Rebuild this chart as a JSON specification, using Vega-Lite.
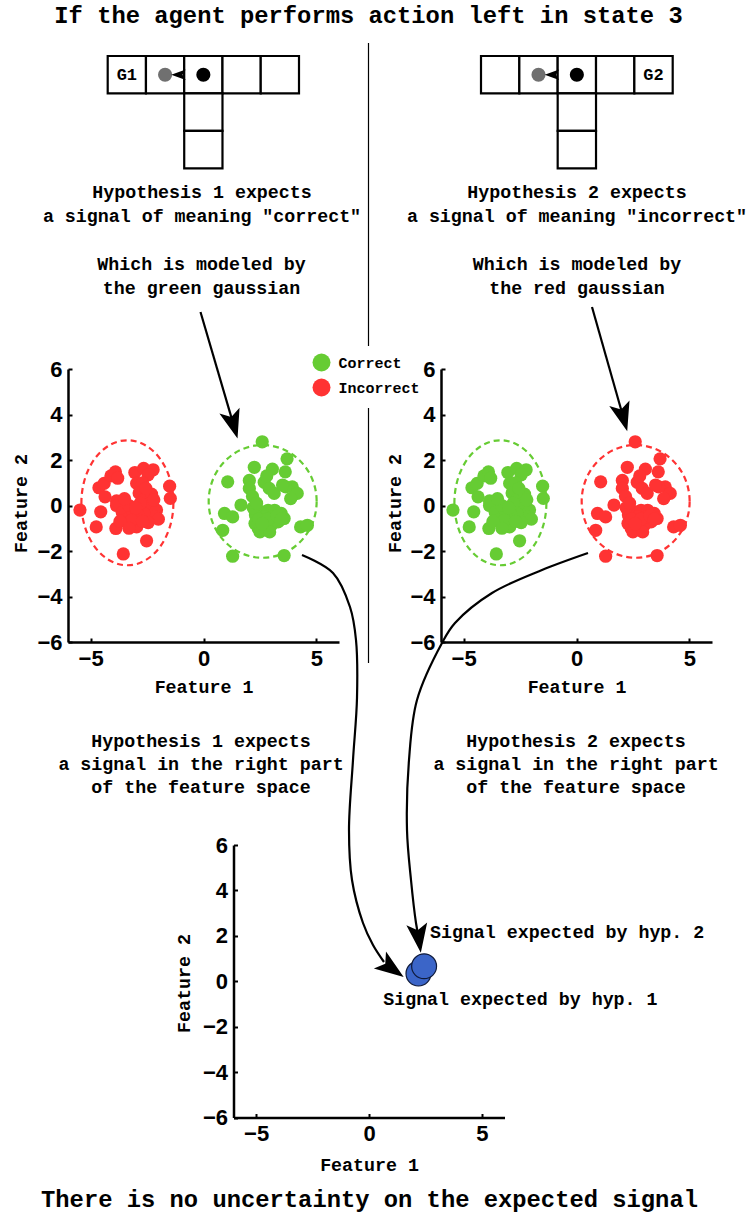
{
"$schema": "https://vega.github.io/schema/vega-lite/v6.json",
"width": 750, "height": 1216,
"autosize": {"type": "none"},
"padding": 0,
"background": "white",
"config": {
  "view": {"stroke": null},
  "axis": {
    "domainColor": "black", "domainWidth": 2.5,
    "ticks": true, "tickColor": "black", "tickWidth": 2, "tickSize": -4, "labelPadding": 10,
    "labelFont": "Liberation Sans", "labelFontWeight": "bold", "labelFontSize": 22, "labelColor": "black",
    "titleFont": "Liberation Mono", "titleFontWeight": "bold", "titleFontSize": 18.3, "titleColor": "black",
    "grid": false, "labelFlush": false, "labelOverlap": false
  }
},
"datasets": {
  "clusters": [
    {"f1": -5.47, "f2": -0.2, "h1": "Incorrect", "h2": "Correct"},
    {"f1": -3.55, "f2": -2.13, "h1": "Incorrect", "h2": "Correct"},
    {"f1": -2.52, "f2": -1.55, "h1": "Incorrect", "h2": "Correct"},
    {"f1": -4.75, "f2": -0.94, "h1": "Incorrect", "h2": "Correct"},
    {"f1": -4.55, "f2": -0.28, "h1": "Incorrect", "h2": "Correct"},
    {"f1": -4.63, "f2": 0.78, "h1": "Incorrect", "h2": "Correct"},
    {"f1": -4.4, "f2": 0.97, "h1": "Incorrect", "h2": "Correct"},
    {"f1": -4.36, "f2": 0.38, "h1": "Incorrect", "h2": "Correct"},
    {"f1": -4.1, "f2": 1.3, "h1": "Incorrect", "h2": "Correct"},
    {"f1": -3.9, "f2": 1.48, "h1": "Incorrect", "h2": "Correct"},
    {"f1": -3.8, "f2": 1.2, "h1": "Incorrect", "h2": "Correct"},
    {"f1": -3.85, "f2": 0.2, "h1": "Incorrect", "h2": "Correct"},
    {"f1": -3.85, "f2": 0.0, "h1": "Incorrect", "h2": "Correct"},
    {"f1": -3.88, "f2": -1.01, "h1": "Incorrect", "h2": "Correct"},
    {"f1": -3.6, "f2": -0.3, "h1": "Incorrect", "h2": "Correct"},
    {"f1": -3.4, "f2": -0.6, "h1": "Incorrect", "h2": "Correct"},
    {"f1": -3.15, "f2": -0.25, "h1": "Incorrect", "h2": "Correct"},
    {"f1": -3.3, "f2": 0.0, "h1": "Incorrect", "h2": "Correct"},
    {"f1": -3.04, "f2": 1.45, "h1": "Incorrect", "h2": "Correct"},
    {"f1": -2.65, "f2": 1.63, "h1": "Incorrect", "h2": "Correct"},
    {"f1": -2.23, "f2": 1.57, "h1": "Incorrect", "h2": "Correct"},
    {"f1": -2.45, "f2": 1.35, "h1": "Incorrect", "h2": "Correct"},
    {"f1": -2.96, "f2": 0.97, "h1": "Incorrect", "h2": "Correct"},
    {"f1": -2.7, "f2": 1.0, "h1": "Incorrect", "h2": "Correct"},
    {"f1": -2.85, "f2": 0.55, "h1": "Incorrect", "h2": "Correct"},
    {"f1": -2.6, "f2": 0.3, "h1": "Incorrect", "h2": "Correct"},
    {"f1": -2.3, "f2": 0.5, "h1": "Incorrect", "h2": "Correct"},
    {"f1": -2.35, "f2": 0.1, "h1": "Incorrect", "h2": "Correct"},
    {"f1": -2.25, "f2": -0.05, "h1": "Incorrect", "h2": "Correct"},
    {"f1": -2.5, "f2": -0.1, "h1": "Incorrect", "h2": "Correct"},
    {"f1": -2.08, "f2": -0.2, "h1": "Incorrect", "h2": "Correct"},
    {"f1": -2.15, "f2": -0.5, "h1": "Incorrect", "h2": "Correct"},
    {"f1": -2.0, "f2": -0.6, "h1": "Incorrect", "h2": "Correct"},
    {"f1": -2.65, "f2": -0.35, "h1": "Incorrect", "h2": "Correct"},
    {"f1": -2.9, "f2": -0.4, "h1": "Incorrect", "h2": "Correct"},
    {"f1": -2.8, "f2": 0.1, "h1": "Incorrect", "h2": "Correct"},
    {"f1": -2.96, "f2": -0.94, "h1": "Incorrect", "h2": "Correct"},
    {"f1": -3.2, "f2": -0.65, "h1": "Incorrect", "h2": "Correct"},
    {"f1": -2.45, "f2": -0.75, "h1": "Incorrect", "h2": "Correct"},
    {"f1": -1.5, "f2": 0.85, "h1": "Incorrect", "h2": "Correct"},
    {"f1": -1.47, "f2": 0.31, "h1": "Incorrect", "h2": "Correct"},
    {"f1": -3.0, "f2": -0.1, "h1": "Incorrect", "h2": "Correct"},
    {"f1": -2.7, "f2": -0.7, "h1": "Incorrect", "h2": "Correct"},
    {"f1": -3.5, "f2": 0.3, "h1": "Incorrect", "h2": "Correct"},
    {"f1": -2.2, "f2": 0.25, "h1": "Incorrect", "h2": "Correct"},
    {"f1": -3.7, "f2": -0.7, "h1": "Incorrect", "h2": "Correct"},
    {"f1": -2.55, "f2": 0.75, "h1": "Incorrect", "h2": "Correct"},
    {"f1": -3.3, "f2": -1.0, "h1": "Incorrect", "h2": "Correct"},
    {"f1": 2.6, "f2": 2.8, "h1": "Correct", "h2": "Incorrect"},
    {"f1": 3.7, "f2": 2.05, "h1": "Correct", "h2": "Incorrect"},
    {"f1": 3.62, "f2": 1.48, "h1": "Correct", "h2": "Incorrect"},
    {"f1": 2.25, "f2": 1.68, "h1": "Correct", "h2": "Incorrect"},
    {"f1": 3.05, "f2": 1.6, "h1": "Correct", "h2": "Incorrect"},
    {"f1": 1.07, "f2": 1.04, "h1": "Correct", "h2": "Incorrect"},
    {"f1": 2.03, "f2": 1.1, "h1": "Correct", "h2": "Incorrect"},
    {"f1": 2.69, "f2": 1.02, "h1": "Correct", "h2": "Incorrect"},
    {"f1": 2.91, "f2": 0.75, "h1": "Correct", "h2": "Incorrect"},
    {"f1": 2.03, "f2": 0.75, "h1": "Correct", "h2": "Incorrect"},
    {"f1": 3.93, "f2": 0.82, "h1": "Correct", "h2": "Incorrect"},
    {"f1": 4.15, "f2": 0.53, "h1": "Correct", "h2": "Incorrect"},
    {"f1": 3.86, "f2": 0.3, "h1": "Correct", "h2": "Incorrect"},
    {"f1": 3.64, "f2": 0.82, "h1": "Correct", "h2": "Incorrect"},
    {"f1": 3.13, "f2": 0.53, "h1": "Correct", "h2": "Incorrect"},
    {"f1": 1.66, "f2": 0.02, "h1": "Correct", "h2": "Incorrect"},
    {"f1": 2.17, "f2": 0.4, "h1": "Correct", "h2": "Incorrect"},
    {"f1": 0.93, "f2": -0.35, "h1": "Correct", "h2": "Incorrect"},
    {"f1": 1.29, "f2": -0.5, "h1": "Correct", "h2": "Incorrect"},
    {"f1": 0.85, "f2": -1.09, "h1": "Correct", "h2": "Incorrect"},
    {"f1": 1.29, "f2": -2.23, "h1": "Correct", "h2": "Incorrect"},
    {"f1": 3.57, "f2": -2.2, "h1": "Correct", "h2": "Incorrect"},
    {"f1": 4.3, "f2": -0.94, "h1": "Correct", "h2": "Incorrect"},
    {"f1": 4.6, "f2": -0.87, "h1": "Correct", "h2": "Incorrect"},
    {"f1": 2.3, "f2": -0.42, "h1": "Correct", "h2": "Incorrect"},
    {"f1": 2.57, "f2": -0.28, "h1": "Correct", "h2": "Incorrect"},
    {"f1": 2.86, "f2": -0.21, "h1": "Correct", "h2": "Incorrect"},
    {"f1": 3.15, "f2": -0.21, "h1": "Correct", "h2": "Incorrect"},
    {"f1": 3.44, "f2": -0.35, "h1": "Correct", "h2": "Incorrect"},
    {"f1": 3.57, "f2": -0.57, "h1": "Correct", "h2": "Incorrect"},
    {"f1": 3.3, "f2": -0.72, "h1": "Correct", "h2": "Incorrect"},
    {"f1": 3.0, "f2": -0.87, "h1": "Correct", "h2": "Incorrect"},
    {"f1": 2.71, "f2": -1.0, "h1": "Correct", "h2": "Incorrect"},
    {"f1": 2.42, "f2": -1.0, "h1": "Correct", "h2": "Incorrect"},
    {"f1": 2.28, "f2": -0.79, "h1": "Correct", "h2": "Incorrect"},
    {"f1": 2.71, "f2": -0.5, "h1": "Correct", "h2": "Incorrect"},
    {"f1": 3.08, "f2": -0.5, "h1": "Correct", "h2": "Incorrect"},
    {"f1": 2.5, "f2": -1.16, "h1": "Correct", "h2": "Incorrect"},
    {"f1": 2.93, "f2": -1.16, "h1": "Correct", "h2": "Incorrect"},
    {"f1": 2.2, "f2": -0.1, "h1": "Correct", "h2": "Incorrect"},
    {"f1": 2.45, "f2": -0.6, "h1": "Correct", "h2": "Incorrect"},
    {"f1": 2.85, "f2": -0.6, "h1": "Correct", "h2": "Incorrect"},
    {"f1": 3.25, "f2": -0.45, "h1": "Correct", "h2": "Incorrect"},
    {"f1": 2.6, "f2": -0.8, "h1": "Correct", "h2": "Incorrect"},
    {"f1": 3.45, "f2": -0.6, "h1": "Correct", "h2": "Incorrect"},
    {"f1": 2.35, "f2": 0.1, "h1": "Correct", "h2": "Incorrect"},
    {"f1": 3.5, "f2": 0.9, "h1": "Correct", "h2": "Incorrect"},
    {"f1": 2.8, "f2": 1.3, "h1": "Correct", "h2": "Incorrect"}
  ],
  "ellipses": [
    {"cluster": "A", "f1": -3.37, "f2": 0.12, "h1": "Incorrect", "h2": "Correct"},
    {"cluster": "B", "f1": 2.62, "f2": 0.18, "h1": "Correct", "h2": "Incorrect"}
  ],
  "signals": [
    {"f1": 2.19, "f2": 0.34, "hyp": "hyp. 1"},
    {"f1": 2.44, "f2": 0.66, "hyp": "hyp. 2"}
  ],
  "signalLabels": [
    {"f1": 2.7, "f2": 2.11, "label": "Signal expected by hyp. 2"},
    {"f1": 0.63, "f2": -0.81, "label": "Signal expected by hyp. 1"}
  ],
  "cells": [
    {"c": 0, "c2": 1, "r": 0, "r2": 1},
    {"c": 1, "c2": 2, "r": 0, "r2": 1},
    {"c": 2, "c2": 3, "r": 0, "r2": 1},
    {"c": 3, "c2": 4, "r": 0, "r2": 1},
    {"c": 4, "c2": 5, "r": 0, "r2": 1},
    {"c": 2, "c2": 3, "r": 1, "r2": 2},
    {"c": 2, "c2": 3, "r": 2, "r2": 3}
  ],
  "goals": [
    {"world": "H1", "c": 0.5, "r": 0.5, "label": "G1"},
    {"world": "H2", "c": 4.5, "r": 0.5, "label": "G2"}
  ],
  "agent": [
    {"c": 1.5, "r": 0.5, "role": "next"},
    {"c": 2.5, "r": 0.5, "role": "current"}
  ],
  "moves": [{"c": 1.85, "r": 0.5, "angle": 90}],
  "separator": [
    {"cx": 368.5, "cy": 43, "cy2": 346},
    {"cx": 368.5, "cy": 408, "cy2": 663}
  ],
  "arrows": [
    {"arrow": "a1", "i": 0, "cx": 200.5, "cy": 312},
    {"arrow": "a1", "i": 1, "cx": 233.5, "cy": 424.6},
    {"arrow": "a2", "i": 0, "cx": 592, "cy": 307},
    {"arrow": "a2", "i": 1, "cx": 623.3, "cy": 417.3},
    {"arrow": "a3", "i": 0, "cx": 302, "cy": 555},
    {"arrow": "a3", "i": 1, "cx": 333, "cy": 573},
    {"arrow": "a3", "i": 2, "cx": 350, "cy": 607},
    {"arrow": "a3", "i": 3, "cx": 356, "cy": 640},
    {"arrow": "a3", "i": 4, "cx": 357, "cy": 698},
    {"arrow": "a3", "i": 5, "cx": 353, "cy": 760},
    {"arrow": "a3", "i": 6, "cx": 349, "cy": 830},
    {"arrow": "a3", "i": 7, "cx": 352, "cy": 880},
    {"arrow": "a3", "i": 8, "cx": 363, "cy": 923},
    {"arrow": "a3", "i": 9, "cx": 373, "cy": 945},
    {"arrow": "a3", "i": 10, "cx": 384, "cy": 962},
    {"arrow": "a4", "i": 0, "cx": 588, "cy": 553},
    {"arrow": "a4", "i": 1, "cx": 542, "cy": 570},
    {"arrow": "a4", "i": 2, "cx": 492, "cy": 593},
    {"arrow": "a4", "i": 3, "cx": 455, "cy": 623},
    {"arrow": "a4", "i": 4, "cx": 442, "cy": 643},
    {"arrow": "a4", "i": 5, "cx": 417, "cy": 700},
    {"arrow": "a4", "i": 6, "cx": 409, "cy": 760},
    {"arrow": "a4", "i": 7, "cx": 407, "cy": 830},
    {"arrow": "a4", "i": 8, "cx": 411, "cy": 880},
    {"arrow": "a4", "i": 9, "cx": 416, "cy": 923},
    {"arrow": "a4", "i": 10, "cx": 418.8, "cy": 938}
  ],
  "heads": [
    {"cx": 233.5, "cy": 424.6, "angle": -16},
    {"cx": 623.3, "cy": 417.3, "angle": -15.6},
    {"cx": 391.8, "cy": 968.5, "angle": -54.6},
    {"cx": 418.8, "cy": 938.3, "angle": -8}
  ],
  "texts": [
    {"cx": 202, "cy": 193, "text": "Hypothesis 1 expects"},
    {"cx": 202, "cy": 216.5, "text": "a signal of meaning \"correct\""},
    {"cx": 201.5, "cy": 265, "text": "Which is modeled by"},
    {"cx": 201.5, "cy": 288.5, "text": "the green gaussian"},
    {"cx": 577, "cy": 193, "text": "Hypothesis 2 expects"},
    {"cx": 577, "cy": 216.5, "text": "a signal of meaning \"incorrect\""},
    {"cx": 577, "cy": 265, "text": "Which is modeled by"},
    {"cx": 577, "cy": 288.5, "text": "the red gaussian"},
    {"cx": 201, "cy": 742, "text": "Hypothesis 1 expects"},
    {"cx": 201, "cy": 765, "text": "a signal in the right part"},
    {"cx": 201, "cy": 788, "text": "of the feature space"},
    {"cx": 576, "cy": 742, "text": "Hypothesis 2 expects"},
    {"cx": 576, "cy": 765, "text": "a signal in the right part"},
    {"cx": 576, "cy": 788, "text": "of the feature space"}
  ],
  "headings": [
    {"cx": 368.5, "cy": 16, "text": "If the agent performs action left in state 3"},
    {"cx": 369.5, "cy": 1200, "text": "There is no uncertainty on the expected signal"}
  ]
},
"layer": [
  {
    "layer": [
      {"data": {"name": "separator"}, "mark": {"type": "rule", "color": "black", "strokeWidth": 1.2},
       "encoding": {
         "x": {"field": "cx", "type": "quantitative", "scale": {"domain": [0, 750], "range": [0, 750], "nice": false, "zero": false}, "axis": null},
         "y": {"field": "cy", "type": "quantitative", "scale": {"domain": [0, 1216], "range": [0, 1216], "nice": false, "zero": false}, "axis": null},
         "y2": {"field": "cy2"}}},
      {"data": {"name": "arrows"}, "mark": {"type": "line", "interpolate": "catmull-rom", "color": "black", "strokeWidth": 2.2},
       "encoding": {
         "x": {"field": "cx", "type": "quantitative", "scale": {"domain": [0, 750], "range": [0, 750], "nice": false, "zero": false}, "axis": null},
         "y": {"field": "cy", "type": "quantitative", "scale": {"domain": [0, 1216], "range": [0, 1216], "nice": false, "zero": false}, "axis": null},
         "detail": {"field": "arrow", "type": "nominal"},
         "order": {"field": "i", "type": "quantitative"}}},
      {"data": {"name": "heads"}, "mark": {"type": "point", "shape": "M0,1 L-0.72,-1 L0,-0.55 L0.72,-1 Z", "filled": true, "color": "black", "opacity": 1, "size": 850},
       "encoding": {
         "x": {"field": "cx", "type": "quantitative", "scale": {"domain": [0, 750], "range": [0, 750], "nice": false, "zero": false}, "axis": null},
         "y": {"field": "cy", "type": "quantitative", "scale": {"domain": [0, 1216], "range": [0, 1216], "nice": false, "zero": false}, "axis": null},
         "angle": {"field": "angle", "type": "quantitative", "scale": null}}},
      {"data": {"name": "texts"}, "mark": {"type": "text", "font": "Liberation Mono", "fontWeight": "bold", "fontSize": 18.3, "align": "center", "baseline": "middle", "color": "black"},
       "encoding": {
         "x": {"field": "cx", "type": "quantitative", "scale": {"domain": [0, 750], "range": [0, 750], "nice": false, "zero": false}, "axis": null},
         "y": {"field": "cy", "type": "quantitative", "scale": {"domain": [0, 1216], "range": [0, 1216], "nice": false, "zero": false}, "axis": null},
         "text": {"field": "text"}}},
      {"data": {"name": "headings"}, "mark": {"type": "text", "font": "Liberation Mono", "fontWeight": "bold", "fontSize": 23.8, "align": "center", "baseline": "middle", "color": "black"},
       "encoding": {
         "x": {"field": "cx", "type": "quantitative", "scale": {"domain": [0, 750], "range": [0, 750], "nice": false, "zero": false}, "axis": null},
         "y": {"field": "cy", "type": "quantitative", "scale": {"domain": [0, 1216], "range": [0, 1216], "nice": false, "zero": false}, "axis": null},
         "text": {"field": "text"}}}
    ]
  },
  {
    "layer": [
      {"data": {"name": "cells"}, "mark": {"type": "rect", "fill": "white", "stroke": "black", "strokeWidth": 2.2},
       "encoding": {
         "x": {"field": "c", "type": "quantitative", "scale": {"domain": [0, 5], "range": [107.7, 299], "nice": false, "zero": false}, "axis": null},
         "x2": {"field": "c2"},
         "y": {"field": "r", "type": "quantitative", "scale": {"domain": [0, 3], "range": [56, 168.3], "nice": false, "zero": false}, "axis": null},
         "y2": {"field": "r2"}}},
      {"data": {"name": "goals"}, "transform": [{"filter": "datum.world === 'H1'"}],
       "mark": {"type": "text", "font": "Liberation Mono", "fontWeight": "bold", "fontSize": 17, "align": "center", "baseline": "middle", "color": "black"},
       "encoding": {
         "x": {"field": "c", "type": "quantitative", "scale": {"domain": [0, 5], "range": [107.7, 299], "nice": false, "zero": false}, "axis": null},
         "y": {"field": "r", "type": "quantitative", "scale": {"domain": [0, 3], "range": [56, 168.3], "nice": false, "zero": false}, "axis": null},
         "text": {"field": "label"}}},
      {"data": {"name": "agent"}, "transform": [{"filter": "datum.role === 'next'"}],
       "mark": {"type": "point", "shape": "circle", "filled": true, "color": "#707070", "opacity": 1, "size": 200},
       "encoding": {
         "x": {"field": "c", "type": "quantitative", "scale": {"domain": [0, 5], "range": [107.7, 299], "nice": false, "zero": false}, "axis": null},
         "y": {"field": "r", "type": "quantitative", "scale": {"domain": [0, 3], "range": [56, 168.3], "nice": false, "zero": false}, "axis": null}}},
      {"data": {"name": "moves"},
       "mark": {"type": "point", "shape": "M0,1 L-0.72,-1 L0,-0.55 L0.72,-1 Z", "filled": true, "color": "black", "opacity": 1, "size": 210},
       "encoding": {
         "x": {"field": "c", "type": "quantitative", "scale": {"domain": [0, 5], "range": [107.7, 299], "nice": false, "zero": false}, "axis": null},
         "y": {"field": "r", "type": "quantitative", "scale": {"domain": [0, 3], "range": [56, 168.3], "nice": false, "zero": false}, "axis": null},
         "angle": {"field": "angle", "type": "quantitative", "scale": null}}},
      {"data": {"name": "agent"}, "transform": [{"filter": "datum.role === 'current'"}],
       "mark": {"type": "point", "shape": "circle", "filled": true, "color": "black", "opacity": 1, "size": 200},
       "encoding": {
         "x": {"field": "c", "type": "quantitative", "scale": {"domain": [0, 5], "range": [107.7, 299], "nice": false, "zero": false}, "axis": null},
         "y": {"field": "r", "type": "quantitative", "scale": {"domain": [0, 3], "range": [56, 168.3], "nice": false, "zero": false}, "axis": null}}}
    ]
  },
  {
    "layer": [
      {"data": {"name": "cells"}, "mark": {"type": "rect", "fill": "white", "stroke": "black", "strokeWidth": 2.2},
       "encoding": {
         "x": {"field": "c", "type": "quantitative", "scale": {"domain": [0, 5], "range": [481, 672.7], "nice": false, "zero": false}, "axis": null},
         "x2": {"field": "c2"},
         "y": {"field": "r", "type": "quantitative", "scale": {"domain": [0, 3], "range": [56, 168.3], "nice": false, "zero": false}, "axis": null},
         "y2": {"field": "r2"}}},
      {"data": {"name": "goals"}, "transform": [{"filter": "datum.world === 'H2'"}],
       "mark": {"type": "text", "font": "Liberation Mono", "fontWeight": "bold", "fontSize": 17, "align": "center", "baseline": "middle", "color": "black"},
       "encoding": {
         "x": {"field": "c", "type": "quantitative", "scale": {"domain": [0, 5], "range": [481, 672.7], "nice": false, "zero": false}, "axis": null},
         "y": {"field": "r", "type": "quantitative", "scale": {"domain": [0, 3], "range": [56, 168.3], "nice": false, "zero": false}, "axis": null},
         "text": {"field": "label"}}},
      {"data": {"name": "agent"}, "transform": [{"filter": "datum.role === 'next'"}],
       "mark": {"type": "point", "shape": "circle", "filled": true, "color": "#707070", "opacity": 1, "size": 200},
       "encoding": {
         "x": {"field": "c", "type": "quantitative", "scale": {"domain": [0, 5], "range": [481, 672.7], "nice": false, "zero": false}, "axis": null},
         "y": {"field": "r", "type": "quantitative", "scale": {"domain": [0, 3], "range": [56, 168.3], "nice": false, "zero": false}, "axis": null}}},
      {"data": {"name": "moves"},
       "mark": {"type": "point", "shape": "M0,1 L-0.72,-1 L0,-0.55 L0.72,-1 Z", "filled": true, "color": "black", "opacity": 1, "size": 210},
       "encoding": {
         "x": {"field": "c", "type": "quantitative", "scale": {"domain": [0, 5], "range": [481, 672.7], "nice": false, "zero": false}, "axis": null},
         "y": {"field": "r", "type": "quantitative", "scale": {"domain": [0, 3], "range": [56, 168.3], "nice": false, "zero": false}, "axis": null},
         "angle": {"field": "angle", "type": "quantitative", "scale": null}}},
      {"data": {"name": "agent"}, "transform": [{"filter": "datum.role === 'current'"}],
       "mark": {"type": "point", "shape": "circle", "filled": true, "color": "black", "opacity": 1, "size": 200},
       "encoding": {
         "x": {"field": "c", "type": "quantitative", "scale": {"domain": [0, 5], "range": [481, 672.7], "nice": false, "zero": false}, "axis": null},
         "y": {"field": "r", "type": "quantitative", "scale": {"domain": [0, 3], "range": [56, 168.3], "nice": false, "zero": false}, "axis": null}}}
    ]
  },
  {
    "layer": [
      {"data": {"name": "ellipses"}, "transform": [{"filter": "datum.cluster === 'A'"}],
       "mark": {"type": "point", "shape": "M0.736,0 C0.736,0.5523 0.4065,1 0,1 C-0.4065,1 -0.736,0.5523 -0.736,0 C-0.736,-0.5523 -0.4065,-1 0,-1 C0.4065,-1 0.736,-0.5523 0.736,0 Z", "size": 15625, "filled": false, "strokeWidth": 2.2, "strokeDash": [6, 4], "opacity": 1},
       "encoding": {
         "x": {"field": "f1", "type": "quantitative", "scale": {"domain": [-6, 6], "range": [68, 339], "nice": false, "zero": false}, "axis": {"orient": "bottom", "offset": -574, "values": [-5, 0, 5], "title": "Feature 1", "titleY": 45, "titleBaseline": "middle"}},
         "y": {"field": "f2", "type": "quantitative", "scale": {"domain": [-6, 6], "range": [642, 369], "nice": false, "zero": false}, "axis": {"orient": "left", "offset": -68, "values": [-6, -4, -2, 0, 2, 4, 6], "title": "Feature 2", "titleX": -47, "titleY": 503, "titleBaseline": "middle"}},
         "stroke": {"field": "h1", "type": "nominal", "scale": {"domain": ["Incorrect", "Correct"], "range": ["#ff3333", "#66cc33"]}, "legend": null}}},
      {"data": {"name": "ellipses"}, "transform": [{"filter": "datum.cluster === 'B'"}],
       "mark": {"type": "point", "shape": "M0.958,0 C0.958,0.5523 0.529,1 0,1 C-0.529,1 -0.958,0.5523 -0.958,0 C-0.958,-0.5523 -0.529,-1 0,-1 C0.529,-1 0.958,-0.5523 0.958,0 Z", "size": 12700, "filled": false, "strokeWidth": 2.2, "strokeDash": [6, 4], "opacity": 1},
       "encoding": {
         "x": {"field": "f1", "type": "quantitative", "scale": {"domain": [-6, 6], "range": [68, 339], "nice": false, "zero": false}, "axis": {"orient": "bottom", "offset": -574, "values": [-5, 0, 5], "title": "Feature 1", "titleY": 45, "titleBaseline": "middle"}},
         "y": {"field": "f2", "type": "quantitative", "scale": {"domain": [-6, 6], "range": [642, 369], "nice": false, "zero": false}, "axis": {"orient": "left", "offset": -68, "values": [-6, -4, -2, 0, 2, 4, 6], "title": "Feature 2", "titleX": -47, "titleY": 503, "titleBaseline": "middle"}},
         "stroke": {"field": "h1", "type": "nominal", "scale": {"domain": ["Incorrect", "Correct"], "range": ["#ff3333", "#66cc33"]}, "legend": null}}},
      {"data": {"name": "clusters"},
       "mark": {"type": "point", "shape": "circle", "filled": true, "size": 175, "opacity": 1},
       "encoding": {
         "x": {"field": "f1", "type": "quantitative", "scale": {"domain": [-6, 6], "range": [68, 339], "nice": false, "zero": false}, "axis": {"orient": "bottom", "offset": -574, "values": [-5, 0, 5], "title": "Feature 1", "titleY": 45, "titleBaseline": "middle"}},
         "y": {"field": "f2", "type": "quantitative", "scale": {"domain": [-6, 6], "range": [642, 369], "nice": false, "zero": false}, "axis": {"orient": "left", "offset": -68, "values": [-6, -4, -2, 0, 2, 4, 6], "title": "Feature 2", "titleX": -47, "titleY": 503, "titleBaseline": "middle"}},
         "color": {"field": "h1", "type": "nominal", "scale": {"domain": ["Correct", "Incorrect"], "range": ["#66cc33", "#ff3333"]},
           "legend": {"title": null, "orient": "none", "legendX": 312.5, "legendY": 353.5, "padding": 0,
             "symbolType": "circle", "symbolSize": 324, "symbolStrokeWidth": 0, "symbolOpacity": 1,
             "labelFont": "Liberation Mono", "labelFontWeight": "bold", "labelFontSize": 15, "labelColor": "black",
             "labelOffset": 8, "rowPadding": 7}}}}
    ]
  },
  {
    "layer": [
      {"data": {"name": "ellipses"}, "transform": [{"filter": "datum.cluster === 'A'"}],
       "mark": {"type": "point", "shape": "M0.736,0 C0.736,0.5523 0.4065,1 0,1 C-0.4065,1 -0.736,0.5523 -0.736,0 C-0.736,-0.5523 -0.4065,-1 0,-1 C0.4065,-1 0.736,-0.5523 0.736,0 Z", "size": 15625, "filled": false, "strokeWidth": 2.2, "strokeDash": [6, 4], "opacity": 1},
       "encoding": {
         "x": {"field": "f1", "type": "quantitative", "scale": {"domain": [-6, 6], "range": [441, 712], "nice": false, "zero": false}, "axis": {"orient": "bottom", "offset": -574, "values": [-5, 0, 5], "title": "Feature 1", "titleY": 45, "titleBaseline": "middle"}},
         "y": {"field": "f2", "type": "quantitative", "scale": {"domain": [-6, 6], "range": [642, 369], "nice": false, "zero": false}, "axis": {"orient": "left", "offset": -441, "values": [-6, -4, -2, 0, 2, 4, 6], "title": "Feature 2", "titleX": -45.3, "titleY": 503, "titleBaseline": "middle"}},
         "stroke": {"field": "h2", "type": "nominal", "scale": {"domain": ["Incorrect", "Correct"], "range": ["#ff3333", "#66cc33"]}, "legend": null}}},
      {"data": {"name": "ellipses"}, "transform": [{"filter": "datum.cluster === 'B'"}],
       "mark": {"type": "point", "shape": "M0.958,0 C0.958,0.5523 0.529,1 0,1 C-0.529,1 -0.958,0.5523 -0.958,0 C-0.958,-0.5523 -0.529,-1 0,-1 C0.529,-1 0.958,-0.5523 0.958,0 Z", "size": 12700, "filled": false, "strokeWidth": 2.2, "strokeDash": [6, 4], "opacity": 1},
       "encoding": {
         "x": {"field": "f1", "type": "quantitative", "scale": {"domain": [-6, 6], "range": [441, 712], "nice": false, "zero": false}, "axis": {"orient": "bottom", "offset": -574, "values": [-5, 0, 5], "title": "Feature 1", "titleY": 45, "titleBaseline": "middle"}},
         "y": {"field": "f2", "type": "quantitative", "scale": {"domain": [-6, 6], "range": [642, 369], "nice": false, "zero": false}, "axis": {"orient": "left", "offset": -441, "values": [-6, -4, -2, 0, 2, 4, 6], "title": "Feature 2", "titleX": -45.3, "titleY": 503, "titleBaseline": "middle"}},
         "stroke": {"field": "h2", "type": "nominal", "scale": {"domain": ["Incorrect", "Correct"], "range": ["#ff3333", "#66cc33"]}, "legend": null}}},
      {"data": {"name": "clusters"},
       "mark": {"type": "point", "shape": "circle", "filled": true, "size": 175, "opacity": 1},
       "encoding": {
         "x": {"field": "f1", "type": "quantitative", "scale": {"domain": [-6, 6], "range": [441, 712], "nice": false, "zero": false}, "axis": {"orient": "bottom", "offset": -574, "values": [-5, 0, 5], "title": "Feature 1", "titleY": 45, "titleBaseline": "middle"}},
         "y": {"field": "f2", "type": "quantitative", "scale": {"domain": [-6, 6], "range": [642, 369], "nice": false, "zero": false}, "axis": {"orient": "left", "offset": -441, "values": [-6, -4, -2, 0, 2, 4, 6], "title": "Feature 2", "titleX": -45.3, "titleY": 503, "titleBaseline": "middle"}},
         "color": {"field": "h2", "type": "nominal", "scale": {"domain": ["Correct", "Incorrect"], "range": ["#66cc33", "#ff3333"]},
           "legend": {"title": null, "orient": "none", "legendX": 312.5, "legendY": 353.5, "padding": 0,
             "symbolType": "circle", "symbolSize": 324, "symbolStrokeWidth": 0, "symbolOpacity": 1,
             "labelFont": "Liberation Mono", "labelFontWeight": "bold", "labelFontSize": 15, "labelColor": "black",
             "labelOffset": 8, "rowPadding": 7}}}}
    ]
  },
  {
    "layer": [
      {"data": {"name": "signals"},
       "mark": {"type": "point", "shape": "circle", "filled": true, "fill": "#3b65c8", "stroke": "#0f1a3a", "strokeWidth": 1.2, "size": 620, "opacity": 1},
       "encoding": {
         "x": {"field": "f1", "type": "quantitative", "scale": {"domain": [-6, 6], "range": [233.5, 504.5], "nice": false, "zero": false}, "axis": {"orient": "bottom", "offset": -98.5, "values": [-5, 0, 5], "title": "Feature 1", "titleY": 47.5, "titleBaseline": "middle"}},
         "y": {"field": "f2", "type": "quantitative", "scale": {"domain": [-6, 6], "range": [1117.5, 845], "nice": false, "zero": false}, "axis": {"orient": "left", "offset": -233.5, "values": [-6, -4, -2, 0, 2, 4, 6], "title": "Feature 2", "titleX": -49.5, "titleY": 983, "titleBaseline": "middle"}}}},
      {"data": {"name": "signalLabels"},
       "mark": {"type": "text", "font": "Liberation Mono", "fontWeight": "bold", "fontSize": 18.3, "align": "left", "baseline": "middle", "color": "black"},
       "encoding": {
         "x": {"field": "f1", "type": "quantitative", "scale": {"domain": [-6, 6], "range": [233.5, 504.5], "nice": false, "zero": false}, "axis": {"orient": "bottom", "offset": -98.5, "values": [-5, 0, 5], "title": "Feature 1", "titleY": 47.5, "titleBaseline": "middle"}},
         "y": {"field": "f2", "type": "quantitative", "scale": {"domain": [-6, 6], "range": [1117.5, 845], "nice": false, "zero": false}, "axis": {"orient": "left", "offset": -233.5, "values": [-6, -4, -2, 0, 2, 4, 6], "title": "Feature 2", "titleX": -49.5, "titleY": 983, "titleBaseline": "middle"}},
         "text": {"field": "label"}}}
    ]
  }
],
"resolve": {"scale": {"x": "independent", "y": "independent"}}
}
